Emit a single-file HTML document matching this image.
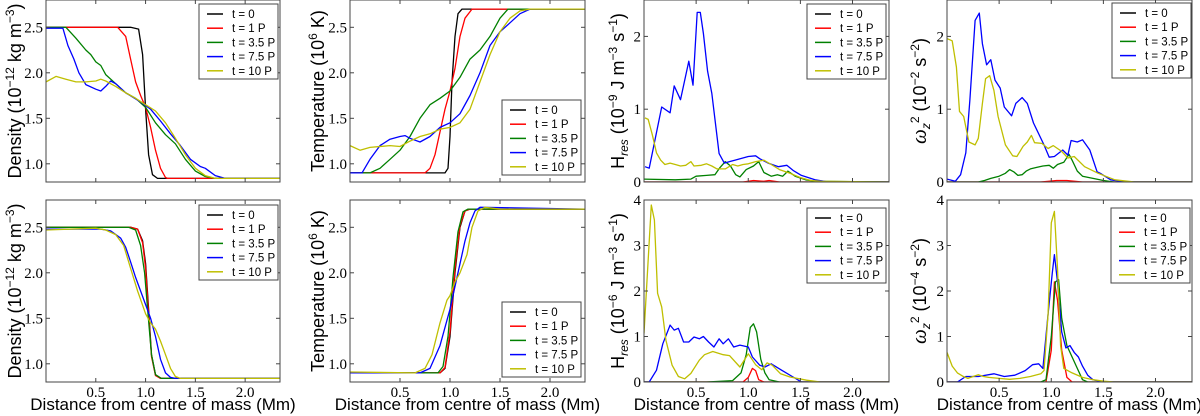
<!DOCTYPE html>
<html><head><meta charset="utf-8"><style>
body{margin:0;background:#fff;width:1200px;height:416px;overflow:hidden}
svg{display:block}
.tk{font-family:"Liberation Serif",serif;font-size:15px;fill:#000}
.yl{font-family:"Liberation Sans",sans-serif;font-size:18px;fill:#000}
.xl{font-family:"Liberation Sans",sans-serif;font-size:17px;fill:#000}
.lg{font-family:"Liberation Sans",sans-serif;font-size:11.5px;fill:#000}
</style></head><body>
<svg id="fig" width="1200" height="416" viewBox="0 0 1200 416" xmlns="http://www.w3.org/2000/svg"></svg>
<script>
// ---- data (x in Mm, y in panel units) ----
const seriesLabels = ["t = 0","t = 1 P","t = 3.5 P","t = 7.5 P","t = 10 P"];
const seriesColors = ["#000000","#ff0000","#008000","#0000ff","#bfbf00"];
const xTicks = [0.5,1.0,1.5,2.0];
const xTickLabels = ["0.5","1.0","1.5","2.0"];

const densTop0 = [[0,2.5],[0.85,2.5],[0.93,2.48],[0.97,2.2],[1.0,1.6],[1.03,1.1],[1.07,0.88],[1.12,0.84],[2.35,0.84]];
const densTop1 = [[0,2.5],[0.72,2.5],[0.8,2.4],[0.85,2.15],[0.9,1.9],[0.95,1.75],[1.0,1.62],[1.05,1.4],[1.1,1.15],[1.15,0.95],[1.2,0.85],[1.22,0.84],[2.35,0.84]];
const densTop35 = [[0,2.5],[0.2,2.5],[0.3,2.38],[0.4,2.25],[0.45,2.2],[0.5,2.12],[0.55,2.08],[0.6,1.98],[0.7,1.88],[0.8,1.78],[0.9,1.72],[1.0,1.62],[1.1,1.45],[1.2,1.32],[1.3,1.22],[1.4,1.05],[1.5,0.92],[1.6,0.86],[1.7,0.84],[2.35,0.84]];
const densTop75 = [[0,2.49],[0.17,2.49],[0.22,2.3],[0.28,2.15],[0.33,2.0],[0.4,1.87],[0.5,1.82],[0.55,1.8],[0.6,1.85],[0.65,1.91],[0.7,1.88],[0.8,1.78],[0.95,1.68],[1.05,1.6],[1.15,1.47],[1.25,1.33],[1.35,1.2],[1.45,1.05],[1.55,0.97],[1.6,0.95],[1.7,0.87],[1.8,0.84],[2.35,0.84]];
const densTop10 = [[0,1.9],[0.1,1.96],[0.2,1.93],[0.3,1.9],[0.4,1.9],[0.5,1.91],[0.55,1.93],[0.6,1.91],[0.7,1.85],[0.8,1.78],[0.9,1.72],[1.0,1.65],[1.1,1.58],[1.2,1.45],[1.3,1.28],[1.4,1.1],[1.5,0.95],[1.6,0.87],[1.7,0.84],[2.35,0.84]];

const tempTop0 = [[0,0.9],[0.95,0.9],[0.98,0.95],[1.0,1.3],[1.02,1.9],[1.05,2.4],[1.08,2.65],[1.12,2.7],[2.35,2.7]];
const tempTop1 = [[0,0.9],[0.75,0.9],[0.8,0.95],[0.85,1.1],[0.9,1.35],[0.95,1.6],[1.0,1.8],[1.05,2.05],[1.1,2.4],[1.15,2.6],[1.22,2.7],[2.35,2.7]];
const tempTop35 = [[0,0.9],[0.2,0.9],[0.3,0.95],[0.4,1.05],[0.5,1.15],[0.6,1.3],[0.7,1.5],[0.8,1.65],[0.9,1.72],[1.0,1.8],[1.1,1.95],[1.2,2.15],[1.3,2.25],[1.4,2.4],[1.5,2.6],[1.58,2.7],[2.35,2.7]];
const tempTop75 = [[0,0.9],[0.12,0.9],[0.2,1.05],[0.3,1.2],[0.4,1.27],[0.5,1.3],[0.55,1.31],[0.6,1.28],[0.7,1.24],[0.8,1.3],[0.9,1.4],[1.0,1.45],[1.1,1.55],[1.2,1.75],[1.3,2.0],[1.4,2.3],[1.5,2.45],[1.6,2.55],[1.7,2.65],[1.8,2.7],[2.35,2.7]];
const tempTop10 = [[0,1.2],[0.1,1.15],[0.2,1.18],[0.4,1.2],[0.5,1.19],[0.6,1.25],[0.7,1.3],[0.8,1.33],[0.9,1.38],[1.0,1.4],[1.1,1.45],[1.2,1.6],[1.3,1.9],[1.4,2.2],[1.5,2.45],[1.6,2.6],[1.7,2.68],[1.8,2.7],[2.35,2.7]];

const hresTop0 = [[0,0],[2.35,0]];
const hresTop1 = [[0,0],[0.95,0],[1.05,0.02],[1.15,0.01],[1.2,0.02],[1.3,0],[2.35,0]];
const hresTop35 = [[0,0.04],[0.3,0.03],[0.45,0.04],[0.5,0.08],[0.6,0.09],[0.68,0.1],[0.73,0.2],[0.78,0.28],[0.83,0.22],[0.88,0.1],[0.92,0.07],[0.98,0.17],[1.05,0.22],[1.1,0.28],[1.15,0.13],[1.22,0.08],[1.28,0.1],[1.33,0.08],[1.38,0.15],[1.45,0.08],[1.55,0.03],[1.65,0.01],[2.35,0]];
const hresTop75 = [[0.01,0.21],[0.05,0.19],[0.17,1.03],[0.25,0.95],[0.29,1.32],[0.35,1.13],[0.43,1.66],[0.47,1.33],[0.51,2.33],[0.54,2.33],[0.57,2.04],[0.61,1.52],[0.65,1.22],[0.72,0.39],[0.77,0.26],[0.82,0.28],[0.87,0.3],[1.0,0.35],[1.07,0.36],[1.11,0.32],[1.19,0.26],[1.29,0.21],[1.37,0.23],[1.43,0.16],[1.51,0.09],[1.64,0.03],[1.77,0],[2.35,0]];
const hresTop10 = [[0.01,0.88],[0.04,0.86],[0.08,0.65],[0.12,0.4],[0.16,0.3],[0.2,0.24],[0.25,0.26],[0.3,0.24],[0.35,0.22],[0.4,0.23],[0.45,0.28],[0.48,0.22],[0.55,0.23],[0.6,0.25],[0.65,0.22],[0.7,0.18],[0.78,0.18],[0.85,0.24],[0.9,0.22],[0.95,0.24],[1.0,0.25],[1.07,0.28],[1.15,0.3],[1.22,0.24],[1.3,0.17],[1.4,0.12],[1.5,0.06],[1.6,0.02],[1.7,0.01],[2.35,0]];

const omegaTop0 = [[0,0],[2.35,0]];
const omegaTop1 = [[0,0],[0.9,0],[1.05,0.02],[1.15,0.02],[1.3,0],[2.35,0]];
const omegaTop35 = [[0,0],[0.3,0],[0.36,0.02],[0.42,0.05],[0.5,0.08],[0.56,0.12],[0.6,0.17],[0.64,0.14],[0.68,0.09],[0.72,0.1],[0.76,0.15],[0.8,0.18],[0.86,0.2],[0.92,0.22],[0.98,0.23],[1.02,0.19],[1.06,0.24],[1.12,0.27],[1.17,0.38],[1.2,0.3],[1.25,0.15],[1.3,0.08],[1.4,0.05],[1.5,0.02],[1.6,0],[2.35,0]];
const omegaTop75 = [[0,0.04],[0.08,0.01],[0.13,0.1],[0.18,0.4],[0.22,1.13],[0.27,2.22],[0.31,2.32],[0.34,1.9],[0.38,1.61],[0.42,1.68],[0.46,1.4],[0.51,1.29],[0.55,1.03],[0.62,0.91],[0.66,1.08],[0.72,1.16],[0.77,1.08],[0.83,0.81],[0.93,0.51],[0.98,0.34],[1.03,0.35],[1.11,0.44],[1.16,0.37],[1.19,0.57],[1.25,0.55],[1.3,0.58],[1.37,0.44],[1.44,0.14],[1.47,0.12],[1.57,0.03],[1.67,0.01],[1.8,0],[2.35,0]];
const omegaTop10 = [[0,1.97],[0.05,1.94],[0.09,1.58],[0.12,0.97],[0.16,0.9],[0.21,0.55],[0.27,0.51],[0.3,0.6],[0.34,1.08],[0.37,1.42],[0.41,1.46],[0.45,1.26],[0.49,0.9],[0.56,0.51],[0.63,0.36],[0.67,0.35],[0.73,0.49],[0.77,0.55],[0.81,0.64],[0.84,0.54],[0.91,0.53],[0.97,0.46],[1.02,0.5],[1.1,0.42],[1.16,0.33],[1.22,0.35],[1.32,0.21],[1.45,0.12],[1.61,0.03],[1.8,0],[2.35,0]];

const densBot0 = [[0,2.5],[0.85,2.5],[0.92,2.48],[0.97,2.35],[1.0,2.1],[1.03,1.6],[1.06,1.1],[1.1,0.88],[1.15,0.84],[2.35,0.84]];
const densBot1 = [[0,2.5],[0.85,2.5],[0.92,2.48],[0.97,2.33],[1.0,2.05],[1.03,1.55],[1.06,1.08],[1.1,0.87],[1.15,0.84],[2.35,0.84]];
const densBot35 = [[0,2.5],[0.83,2.5],[0.9,2.47],[0.95,2.3],[0.99,2.0],[1.02,1.6],[1.06,1.1],[1.1,0.88],[1.16,0.84],[2.35,0.84]];
const densBot75 = [[0,2.48],[0.55,2.48],[0.65,2.46],[0.75,2.38],[0.8,2.28],[0.85,2.12],[0.9,1.95],[0.95,1.8],[1.0,1.65],[1.05,1.5],[1.1,1.3],[1.15,1.05],[1.2,0.9],[1.25,0.85],[1.3,0.84],[2.35,0.84]];
const densBot10 = [[0,2.47],[0.5,2.49],[0.6,2.47],[0.7,2.42],[0.78,2.3],[0.85,2.05],[0.92,1.8],[1.0,1.55],[1.05,1.45],[1.1,1.38],[1.15,1.25],[1.2,1.1],[1.25,0.95],[1.3,0.86],[1.35,0.84],[2.35,0.84]];

const tempBot0 = [[0,0.9],[0.9,0.9],[0.95,0.95],[1.0,1.3],[1.05,2.0],[1.1,2.5],[1.15,2.68],[1.2,2.7],[2.35,2.7]];
const tempBot1 = [[0,0.9],[0.9,0.9],[0.95,0.96],[1.0,1.35],[1.05,2.05],[1.1,2.52],[1.15,2.68],[1.2,2.7],[2.35,2.7]];
const tempBot35 = [[0,0.9],[0.88,0.9],[0.93,0.97],[0.98,1.3],[1.03,1.95],[1.08,2.45],[1.13,2.67],[1.18,2.7],[2.35,2.7]];
const tempBot75 = [[0,0.9],[0.7,0.9],[0.8,0.95],[0.9,1.2],[1.0,1.6],[1.05,1.85],[1.1,2.1],[1.15,2.35],[1.2,2.55],[1.25,2.68],[1.3,2.72],[2.35,2.7]];
const tempBot10 = [[0,0.91],[0.65,0.9],[0.75,0.95],[0.82,1.1],[0.9,1.45],[0.97,1.7],[1.0,1.75],[1.05,1.9],[1.1,2.0],[1.17,2.2],[1.22,2.5],[1.28,2.68],[1.35,2.72],[1.5,2.7],[2.35,2.7]];

const hresBot0 = [[0,0],[2.35,0]];
const hresBot1 = [[0,0],[0.95,0],[1.0,0.1],[1.04,0.3],[1.07,0.25],[1.1,0.05],[1.15,0],[2.35,0]];
const hresBot35 = [[0,0],[0.6,0],[0.85,0.03],[0.93,0.2],[0.98,0.6],[1.02,1.2],[1.05,1.28],[1.08,1.1],[1.12,0.5],[1.16,0.2],[1.2,0.05],[1.3,0],[2.35,0]];
const hresBot75 = [[0,0],[0.05,0],[0.12,0.26],[0.18,0.84],[0.25,1.25],[0.29,1.14],[0.33,1.18],[0.38,0.88],[0.43,0.88],[0.48,0.99],[0.53,0.95],[0.57,1.0],[0.62,0.88],[0.67,0.77],[0.72,0.95],[0.76,0.84],[0.81,0.95],[0.86,0.77],[0.92,0.81],[1.0,0.77],[1.04,0.55],[1.11,0.37],[1.16,0.33],[1.22,0.4],[1.32,0.26],[1.43,0.11],[1.51,0],[2.35,0]];
const hresBot10 = [[0,1.07],[0.07,3.89],[0.1,3.56],[0.13,1.95],[0.17,1.65],[0.21,0.92],[0.27,0.37],[0.33,0.12],[0.39,0.07],[0.45,0.19],[0.53,0.48],[0.58,0.6],[0.66,0.67],[0.76,0.6],[0.82,0.58],[0.92,0.33],[1.0,0.62],[1.07,0.38],[1.13,0.27],[1.18,0.42],[1.23,0.37],[1.31,0.18],[1.4,0.11],[1.56,0.04],[1.69,0],[2.35,0]];

const omegaBot0 = [[0,0],[2.35,0]];
const omegaBot1 = [[0,0],[0.95,0],[1.0,0.7],[1.03,2.2],[1.06,1.8],[1.1,0.7],[1.15,0.1],[1.2,0],[2.35,0]];
const omegaBot35 = [[0,0],[0.9,0],[0.95,0.05],[1.0,1.0],[1.04,2.2],[1.07,2.25],[1.1,1.4],[1.15,0.8],[1.2,0.55],[1.25,0.3],[1.3,0.05],[1.35,0],[2.35,0]];
const omegaBot75 = [[0,0],[0.1,0],[0.18,0.12],[0.3,0.12],[0.45,0.18],[0.55,0.12],[0.65,0.15],[0.75,0.25],[0.82,0.38],[0.88,0.4],[0.92,0.3],[0.97,1.5],[1.01,2.4],[1.03,2.8],[1.06,2.2],[1.1,1.1],[1.14,0.75],[1.18,0.8],[1.22,0.65],[1.26,0.55],[1.3,0.35],[1.35,0.15],[1.4,0.05],[1.5,0],[2.35,0]];
const omegaBot10 = [[0,0.65],[0.05,0.35],[0.1,0.2],[0.15,0.13],[0.2,0.08],[0.25,0.12],[0.3,0.16],[0.35,0.12],[0.4,0.1],[0.5,0.08],[0.6,0.06],[0.7,0.08],[0.8,0.12],[0.9,0.18],[0.93,0.25],[0.97,1.5],[1.0,3.5],[1.03,3.75],[1.06,2.5],[1.09,0.8],[1.12,0.3],[1.2,0.2],[1.3,0.1],[1.4,0.05],[1.5,0.02],[1.6,0],[2.35,0]];

const densTicks = [1.0,1.5,2.0,2.5];
const densTickLabels = ["1.0","1.5","2.0","2.5"];
const hresTopTicks = [0,1,2];
const fourTicks = [0,1,2,3,4];

// ---- layout ----
const S = "http://www.w3.org/2000/svg";
const fig = document.getElementById('fig');
function el(tag, attrs, parent){const e=document.createElementNS(S,tag);for(const k in attrs)e.setAttribute(k,attrs[k]);(parent||fig).appendChild(e);return e;}

const cols = [{x0:46,x1:280,yc:15},{x0:350,x1:585,yc:318},{x0:644,x1:889,yc:618},{x0:947,x1:1192,yc:920}];
const rows = [{y0:0,y1:182},{y0:200,y1:382}];

const panels = [
 {c:0,r:0,name:'density-top',dom:[0.8,2.8],ticks:densTicks,tl:densTickLabels,series:[densTop0,densTop1,densTop35,densTop75,densTop10],leg:[199,4],yl:'dens'},
 {c:1,r:0,name:'temperature-top',dom:[0.8,2.8],ticks:densTicks,tl:densTickLabels,series:[tempTop0,tempTop1,tempTop35,tempTop75,tempTop10],leg:[502,100],yl:'temp'},
 {c:2,r:0,name:'heating-top',dom:[0,2.5],ticks:hresTopTicks,tl:["0","1","2"],series:[hresTop0,hresTop1,hresTop35,hresTop75,hresTop10],leg:[807,4],yl:'hres',exp:'9'},
 {c:3,r:0,name:'vorticity-top',dom:[0,2.5],ticks:hresTopTicks,tl:["0","1","2"],series:[omegaTop0,omegaTop1,omegaTop35,omegaTop75,omegaTop10],leg:[1112,3],yl:'omega',exp:'2'},
 {c:0,r:1,name:'density-bottom',dom:[0.8,2.8],ticks:densTicks,tl:densTickLabels,series:[densBot0,densBot1,densBot35,densBot75,densBot10],leg:[199,205],yl:'dens'},
 {c:1,r:1,name:'temperature-bottom',dom:[0.8,2.8],ticks:densTicks,tl:densTickLabels,series:[tempBot0,tempBot1,tempBot35,tempBot75,tempBot10],leg:[502,302],yl:'temp'},
 {c:2,r:1,name:'heating-bottom',dom:[0,4],ticks:fourTicks,tl:["0","1","2","3","4"],series:[hresBot0,hresBot1,hresBot35,hresBot75,hresBot10],leg:[807,208],yl:'hres',exp:'6'},
 {c:3,r:1,name:'vorticity-bottom',dom:[0,4],ticks:fourTicks,tl:["0","1","2","3","4"],series:[omegaBot0,omegaBot1,omegaBot35,omegaBot75,omegaBot10],leg:[1111,208],yl:'omega',exp:'4'}
];
const XD=[0,2.35];

panels.forEach((p,pi)=>{
  const C=cols[p.c],R=rows[p.r];
  const xs=v=>C.x0+(v-XD[0])/(XD[1]-XD[0])*(C.x1-C.x0);
  const ys=v=>R.y1-(v-p.dom[0])/(p.dom[1]-p.dom[0])*(R.y1-R.y0);
  const g=el('g',{});
  
  
  el('clipPath',{id:'cp'+pi},g).appendChild((()=>{const r=document.createElementNS(S,'rect');r.setAttribute('x',C.x0);r.setAttribute('y',R.y0);r.setAttribute('width',C.x1-C.x0);r.setAttribute('height',R.y1-R.y0);return r;})());
  p.series.forEach((s,si)=>{
    const d=s.map((pt,i)=>(i?'L':'M')+xs(pt[0]).toFixed(1)+' '+ys(pt[1]).toFixed(1)).join(' ');
    const path=el('path',{d:d,fill:'none',stroke:seriesColors[si],'stroke-width':1.3,'clip-path':'url(#cp'+pi+')','stroke-linejoin':'round'},g);
    
    
  });
  const fr=el('rect',{x:C.x0,y:R.y0,width:C.x1-C.x0,height:R.y1-R.y0,fill:'none',stroke:'#444','stroke-width':1},g);
  
  
  xTicks.forEach((t,i)=>{
    const x=xs(t);
    el('line',{x1:x,x2:x,y1:R.y1,y2:R.y1-4,stroke:'#444'},g);
    el('line',{x1:x,x2:x,y1:R.y0,y2:R.y0+4,stroke:'#444'},g);
    if(p.r===1){const t2=el('text',{x:x,y:R.y1+15,'text-anchor':'middle',class:'tk'},g);t2.textContent=xTickLabels[i];
      
      }
  });
  p.ticks.forEach((t,i)=>{
    const y=ys(t);
    el('line',{x1:C.x0,x2:C.x0+4,y1:y,y2:y,stroke:'#444'},g);
    el('line',{x1:C.x1,x2:C.x1-4,y1:y,y2:y,stroke:'#444'},g);
    const tt=el('text',{x:C.x0-3,y:y+5,'text-anchor':'end',class:'tk'},g);tt.textContent=p.tl[i];
    
    
  });
  const cy=(R.y0+R.y1)/2;
  const yl=el('text',{class:'yl',transform:'translate('+(C.yc+6)+','+cy+') rotate(-90)','text-anchor':'middle'},g);
  
  
  if(p.yl==='dens') yl.innerHTML='Density (10<tspan dy="-7" font-size="12">−12</tspan><tspan dy="7"> kg m</tspan><tspan dy="-7" font-size="12">−3</tspan><tspan dy="7">)</tspan>';
  else if(p.yl==='temp') yl.innerHTML='Temperature (10<tspan dy="-7" font-size="12">6</tspan><tspan dy="7"> K)</tspan>';
  else if(p.yl==='hres') yl.innerHTML='H<tspan dy="4" font-size="12" font-style="italic">res</tspan><tspan dy="-4"> (10</tspan><tspan dy="-7" font-size="12">−'+p.exp+'</tspan><tspan dy="7"> J m</tspan><tspan dy="-7" font-size="12">−3</tspan><tspan dy="7"> s</tspan><tspan dy="-7" font-size="12">−1</tspan><tspan dy="7">)</tspan>';
  else yl.innerHTML='<tspan font-family="Liberation Serif" font-style="italic" font-size="21">ω</tspan><tspan dy="4" font-size="12" font-style="italic">z</tspan><tspan dy="-11" font-size="12">2</tspan><tspan dy="7"> (10</tspan><tspan dy="-7" font-size="12">−'+p.exp+'</tspan><tspan dy="7"> s</tspan><tspan dy="-7" font-size="12">−2</tspan><tspan dy="7">)</tspan>';
  if(p.r===1){
    const xl=el('text',{x:(C.x0+C.x1)/2,y:410,'text-anchor':'middle',class:'xl'},g);
    xl.textContent='Distance from centre of mass (Mm)';
    
    
  }
  const lg=el('g',{},g);
  
  
  const [lx,ly]=p.leg;
  el('rect',{x:lx,y:ly,width:79,height:75,fill:'#fff',stroke:'#444','stroke-width':1},lg);
  seriesLabels.forEach((lab,si)=>{
    const yy=ly+10+si*14.2;
    const e=el('g',{},lg);
    
    
    el('line',{x1:lx+8,x2:lx+24,y1:yy,y2:yy,stroke:seriesColors[si],'stroke-width':1.5},e);
    const t=el('text',{x:lx+33,y:yy+4,class:'lg'},e);t.textContent=lab;
  });
});
</script>
</body></html>
